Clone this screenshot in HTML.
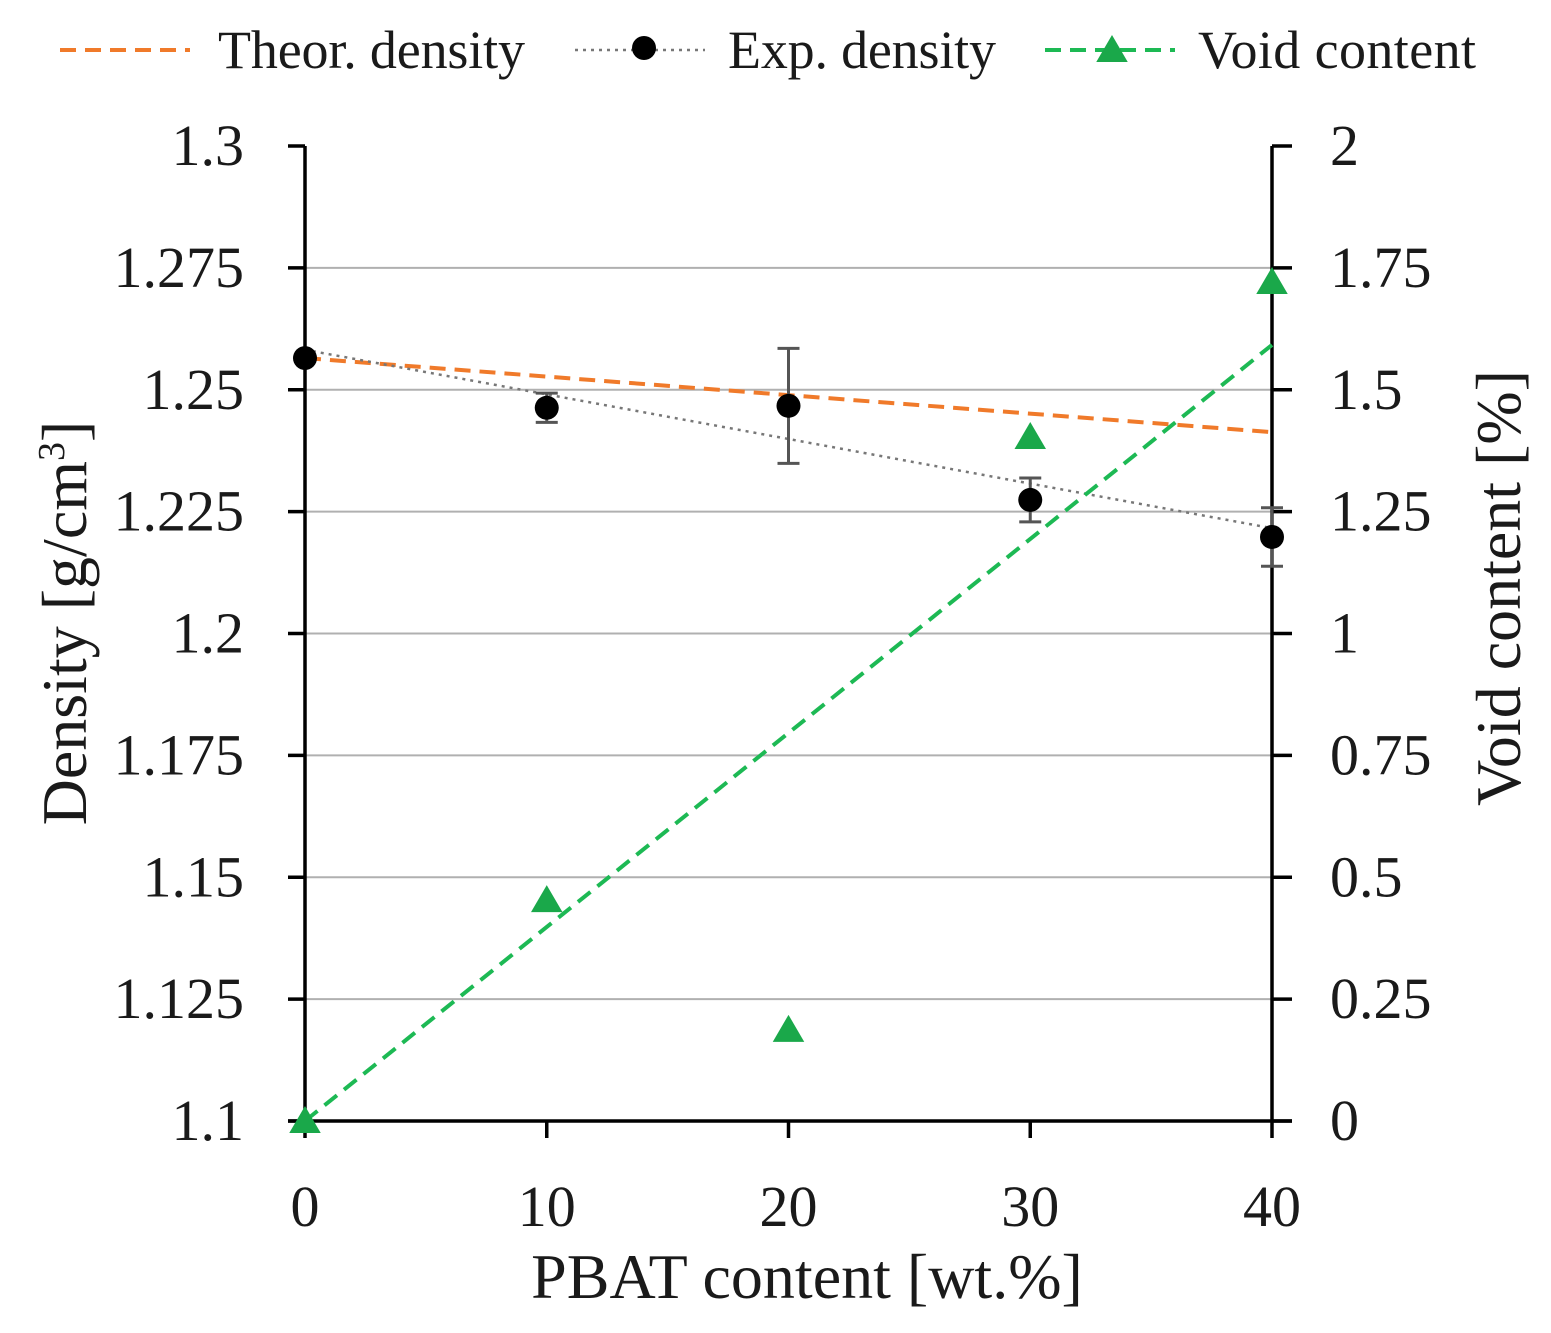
<!DOCTYPE html>
<html><head><meta charset="utf-8"><style>
html,body{margin:0;padding:0;background:#fff;}
svg{display:block;font-family:"Liberation Serif",serif;}
</style></head><body>
<svg id="chart" width="1551" height="1333"></svg>
<script>
const xCats=[0,10,20,30,40];
const expDensity=[1.2565,1.2463,1.2467,1.2274,1.2198];
const expErr=[0,0.003,0.0118,0.0045,0.006];
const voidContent=[0,0.453,0.187,1.403,1.721];
const theorLine=[1.2565,1.2413];
const expTrend=[1.2582,1.2216];
const voidTrend=[0,1.592];
const leftTicks=[1.1,1.125,1.15,1.175,1.2,1.225,1.25,1.275,1.3];
const leftLabels=["1.1","1.125","1.15","1.175","1.2","1.225","1.25","1.275","1.3"];
const rightTicks=[0,0.25,0.5,0.75,1,1.25,1.5,1.75,2];
const rightLabels=["0","0.25","0.5","0.75","1","1.25","1.5","1.75","2"];

const X0=305,X1=1272,YT=146,YB=1121;
const xs=v=>X0+(v-0)/40*(X1-X0);
const yl=v=>YB-(v-1.1)/0.2*(YB-YT);
const yr=v=>YB-v/2*(YB-YT);
const svg=document.getElementById('chart');
const NS='http://www.w3.org/2000/svg';
function mk(tag,attrs,parent){const e=document.createElementNS(NS,tag);for(const k in attrs)e.setAttribute(k,attrs[k]);(parent||svg).appendChild(e);return e;}

leftTicks.forEach((t,i)=>{if(i>0&&i<leftTicks.length-1){const g=mk('line',{x1:X0,x2:X1,y1:yl(t),y2:yl(t),stroke:'#b0b0b0','stroke-width':2});

}});
const ax=mk('g',{stroke:'#000','stroke-width':3.5});


mk('line',{x1:X0,x2:X0,y1:YT,y2:YB},ax);
mk('line',{x1:X1,x2:X1,y1:YT,y2:YB},ax);
mk('line',{x1:288,x2:1292,y1:YB,y2:YB},ax);
leftTicks.forEach(t=>mk('line',{x1:288,x2:X0,y1:yl(t),y2:yl(t)},ax));
rightTicks.forEach(t=>mk('line',{x1:X1,x2:1292,y1:yr(t),y2:yr(t)},ax));
xCats.forEach(c=>mk('line',{x1:xs(c),x2:xs(c),y1:YB,y2:YB+17},ax));
const TF=58;
leftTicks.forEach((t,i)=>{const e=mk('text',{x:244,y:yl(t)+19,'text-anchor':'end','font-size':TF,fill:'#1a1a1a'});e.textContent=leftLabels[i];

});
rightTicks.forEach((t,i)=>{const e=mk('text',{x:1330,y:yr(t)+19,'text-anchor':'start','font-size':TF,fill:'#1a1a1a'});e.textContent=rightLabels[i];

});
xCats.forEach(c=>{const e=mk('text',{x:xs(c),y:1226,'text-anchor':'middle','font-size':TF,fill:'#1a1a1a'});e.textContent=String(c);

});
let t=mk('text',{x:807,y:1298,'text-anchor':'middle','font-size':64,fill:'#1a1a1a'});t.textContent='PBAT content [wt.%]';

t=mk('text',{x:0,y:0,'text-anchor':'middle','font-size':64,fill:'#1a1a1a',transform:'translate(86,623) rotate(-90)'});
t.innerHTML='Density [g/cm<tspan dy="-22" font-size="38">3</tspan><tspan dy="22">]</tspan>';

t=mk('text',{x:0,y:0,'text-anchor':'middle','font-size':64,fill:'#1a1a1a',transform:'translate(1520,588) rotate(-90)'});t.textContent='Void content [%]';


let l=mk('line',{x1:xs(0),x2:xs(40),y1:yl(theorLine[0]),y2:yl(theorLine[1]),stroke:'#f07a2a','stroke-width':4,'stroke-dasharray':'16 9'});

l=mk('line',{x1:xs(0),x2:xs(40),y1:yl(expTrend[0]),y2:yl(expTrend[1]),stroke:'#777','stroke-width':2.5,'stroke-dasharray':'3 5'});

l=mk('line',{x1:xs(0),x2:xs(40),y1:yr(voidTrend[0]),y2:yr(voidTrend[1]),stroke:'#1db954','stroke-width':4,'stroke-dasharray':'16 9'});


xCats.forEach((c,i)=>{
 if(expErr[i]>0){const g=mk('g',{stroke:'#555','stroke-width':3});
 
 const a=yl(expDensity[i]+expErr[i]),b=yl(expDensity[i]-expErr[i]);
 mk('line',{x1:xs(c),x2:xs(c),y1:a,y2:b},g);
 mk('line',{x1:xs(c)-11,x2:xs(c)+11,y1:a,y2:a},g);
 mk('line',{x1:xs(c)-11,x2:xs(c)+11,y1:b,y2:b},g);}
 const p=mk('circle',{cx:xs(c),cy:yl(expDensity[i]),r:12,fill:'#000'});
 
});
function tri(cx,cy,s){return `${cx},${cy-s} ${cx-s*1.05},${cy+s*0.8} ${cx+s*1.05},${cy+s*0.8}`;}
xCats.forEach((c,i)=>{const p=mk('polygon',{points:tri(xs(c),yr(voidContent[i]),15),fill:'#1aa84a'});
});

const lg=mk('g',{});
mk('line',{x1:60,x2:190,y1:50,y2:50,stroke:'#f07a2a','stroke-width':4,'stroke-dasharray':'16 9'},lg);
t=mk('text',{x:218,y:68,'font-size':54,fill:'#1a1a1a',textLength:307},lg);t.textContent='Theor. density';

mk('line',{x1:575,x2:705,y1:50,y2:50,stroke:'#777','stroke-width':2.5,'stroke-dasharray':'3 5'},lg);
mk('circle',{cx:644,cy:48,r:12,fill:'#000'},lg);
t=mk('text',{x:728,y:68,'font-size':54,fill:'#1a1a1a',textLength:268},lg);t.textContent='Exp. density';

mk('line',{x1:1045,x2:1175,y1:50,y2:50,stroke:'#1db954','stroke-width':4,'stroke-dasharray':'16 9'},lg);
mk('polygon',{points:tri(1112,50,15),fill:'#1aa84a'},lg);
t=mk('text',{x:1198,y:68,'font-size':54,fill:'#1a1a1a',textLength:278},lg);t.textContent='Void content';

</script>
</body></html>
